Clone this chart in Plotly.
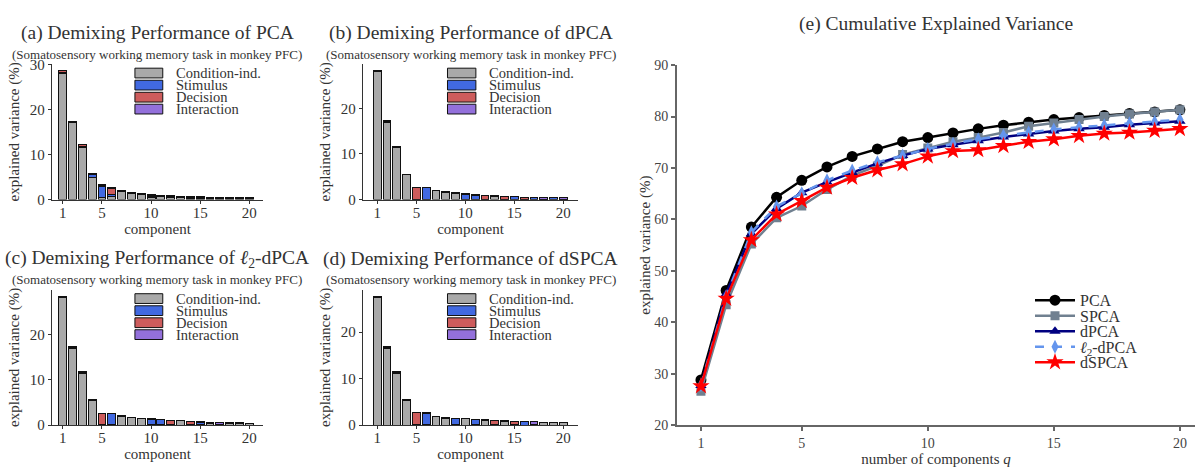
import plotly.graph_objects as go

W, H = 1195, 468
FONT = "Liberation Serif"
TXT = "#333333"

components = list(range(1, 21))
categories = ["Condition-ind.", "Stimulus", "Decision", "Interaction"]
cat_colors = ["#a9a9a9", "#4169e1", "#cd5c5c", "#9370db"]

# ---- per-component explained variance (%), stacked by marginalization ----
pca_cond = [28.1, 17.1, 11.6, 5.0, 0.57, 0.6, 1.7, 1.3, 1.1, 0.5, 0.7, 0.4, 0.4, 0.35, 0.3, 0.3, 0.25, 0.25, 0.25, 0.2]
pca_stim = [0.15, 0.1, 0.2, 0.6, 2.3, 0.45, 0.1, 0.1, 0.1, 0.15, 0.1, 0.3, 0.25, 0.2, 0.2, 0.15, 0.15, 0.15, 0.1, 0.1]
pca_dec = [0.35, 0.15, 0.4, 0.15, 0.35, 1.35, 0.15, 0.1, 0.1, 0.3, 0.1, 0.1, 0.1, 0.1, 0.05, 0.05, 0.05, 0.05, 0.05, 0.1]
pca_int = [0.15, 0.1, 0.15, 0.15, 0.2, 0.3, 0.1, 0.07, 0.1, 0.1, 0.05, 0.05, 0.05, 0.05, 0.05, 0.05, 0.05, 0.05, 0.1, 0.05]

dpca_cond = [28.0, 16.95, 11.5, 5.4, 0.05, 0.05, 1.95, 1.62, 1.42, 0.05, 0.05, 0.05, 0.78, 0.05, 0.04, 0.04, 0.04, 0.04, 0.04, 0.04]
dpca_stim = [0.1, 0.1, 0.1, 0.04, 0.05, 2.5, 0.04, 0.03, 0.03, 1.17, 0.96, 0.05, 0.03, 0.05, 0.55, 0.04, 0.48, 0.04, 0.35, 0.04]
dpca_dec = [0.1, 0.1, 0.08, 0.03, 2.45, 0.03, 0.03, 0.03, 0.03, 0.03, 0.03, 0.88, 0.02, 0.65, 0.02, 0.45, 0.02, 0.03, 0.02, 0.03]
dpca_int = [0.1, 0.1, 0.07, 0.03, 0.05, 0.02, 0.03, 0.02, 0.02, 0.02, 0.02, 0.02, 0.02, 0.03, 0.02, 0.03, 0.02, 0.38, 0.02, 0.31]

l2_cond = [28.15, 16.95, 11.5, 5.5, 0.05, 0.05, 1.95, 1.62, 1.48, 0.04, 0.04, 0.04, 0.92, 0.04, 0.04, 0.47, 0.04, 0.47, 0.41, 0.35]
l2_stim = [0.1, 0.1, 0.1, 0.04, 0.05, 2.55, 0.04, 0.03, 0.03, 1.3, 1.17, 0.04, 0.03, 0.04, 0.61, 0.03, 0.04, 0.03, 0.03, 0.03]
l2_dec = [0.1, 0.1, 0.08, 0.03, 2.53, 0.04, 0.03, 0.02, 0.02, 0.03, 0.03, 0.95, 0.02, 0.74, 0.03, 0.03, 0.03, 0.03, 0.02, 0.02]
l2_int = [0.1, 0.1, 0.07, 0.03, 0.05, 0.04, 0.02, 0.02, 0.02, 0.03, 0.03, 0.03, 0.02, 0.03, 0.02, 0.03, 0.45, 0.03, 0.03, 0.02]

dspca_cond = [27.4, 16.5, 11.2, 5.35, 0.05, 0.05, 1.84, 1.52, 0.04, 1.44, 0.04, 1.1, 0.03, 0.84, 0.03, 0.03, 0.03, 0.49, 0.49, 0.49]
dspca_stim = [0.1, 0.1, 0.1, 0.04, 0.04, 2.52, 0.03, 0.03, 1.43, 0.03, 1.09, 0.03, 0.03, 0.02, 0.03, 0.69, 0.03, 0.02, 0.02, 0.02]
dspca_dec = [0.1, 0.1, 0.08, 0.03, 2.55, 0.03, 0.03, 0.02, 0.03, 0.03, 0.02, 0.02, 0.89, 0.02, 0.75, 0.02, 0.02, 0.02, 0.02, 0.02]
dspca_int = [0.1, 0.1, 0.07, 0.03, 0.05, 0.02, 0.03, 0.02, 0.02, 0.02, 0.02, 0.02, 0.02, 0.02, 0.02, 0.02, 0.68, 0.02, 0.02, 0.02]

# ---- cumulative explained variance (%) ----
q_values = list(range(1, 21))
cum_pca = [28.8, 46.2, 58.5, 64.3, 67.6, 70.2, 72.25, 73.7, 75.1, 75.9, 76.8, 77.6, 78.3, 78.9, 79.4, 79.8, 80.2, 80.6, 80.9, 81.3]
cum_spca = [26.6, 43.4, 55.2, 60.3, 62.6, 65.8, 68.5, 70.4, 72.6, 73.9, 75.1, 75.9, 76.9, 78.1, 78.75, 79.4, 80.0, 80.5, 80.9, 81.3]
cum_dpca = [27.7, 45.5, 57.2, 62.1, 65.2, 67.25, 69.1, 70.9, 72.4, 73.7, 74.5, 75.3, 76.0, 76.6, 77.2, 77.6, 77.9, 78.4, 78.75, 79.1]
cum_l2dpca = [27.8, 45.0, 57.5, 62.5, 65.1, 67.6, 69.5, 71.1, 72.4, 73.7, 74.7, 75.6, 76.3, 76.9, 77.5, 77.9, 78.3, 78.7, 79.0, 79.4]
cum_dspca = [27.6, 44.6, 56.0, 61.0, 63.6, 66.2, 68.1, 69.6, 70.75, 72.25, 73.3, 73.5, 74.3, 75.1, 75.6, 76.25, 76.7, 76.9, 77.25, 77.6]

fig = go.Figure()

def px_x(a, b):
    return [a / W, b / W]

def px_y(top, bottom):
    return [1 - bottom / H, 1 - top / H]

panels = [
    dict(sfx="", title="(a) Demixing Performance of PCA",
         data=[pca_cond, pca_stim, pca_dec, pca_int],
         xd=px_x(52, 263), yd=px_y(59, 199), xr=[-0.09, 21.4], yr=[0, 30.1], yt=[0, 10, 20, 30]),
    dict(sfx="2", title="(b) Demixing Performance of dPCA",
         data=[dpca_cond, dpca_stim, dpca_dec, dpca_int],
         xd=px_x(363, 578), yd=px_y(59, 199), xr=[-0.45, 21.5], yr=[0, 29.7], yt=[0, 10, 20]),
    dict(sfx="3", title="(c) Demixing Performance of <i>ℓ</i><sub>2</sub>-dPCA",
         data=[l2_cond, l2_stim, l2_dec, l2_int],
         xd=px_x(52, 263), yd=px_y(292, 432), xr=[-0.09, 21.4], yr=[0, 29.9], yt=[0, 10, 20]),
    dict(sfx="4", title="(d) Demixing Performance of dSPCA",
         data=[dspca_cond, dspca_stim, dspca_dec, dspca_int],
         xd=px_x(363, 578), yd=px_y(292, 432), xr=[-0.45, 21.5], yr=[0, 29.1], yt=[0, 10, 20]),
]

layout_axes = {}
annotations = []
shapes = []

for p in panels:
    s = p["sfx"]
    xa = "x" + s
    ya = "y" + s
    for vals, cname, col in zip(p["data"], categories, cat_colors):
        fig.add_trace(go.Bar(
            x=components, y=vals, name=cname, xaxis=xa, yaxis=ya,
            marker=dict(color=col, line=dict(color="#111111", width=1)),
            showlegend=False, hoverinfo="skip"))
    axis_common = dict(showgrid=False, zeroline=False, showline=True, linecolor="#333333", linewidth=1.3,
                       ticks="outside", ticklen=3, tickwidth=1.2, tickcolor="#333333",
                       tickfont=dict(family=FONT, size=15, color=TXT))
    layout_axes["xaxis" + s] = dict(axis_common, domain=p["xd"], range=p["xr"], anchor=ya,
                                    tickvals=[1, 5, 10, 15, 20], ticklabelstandoff=-4,
                                    title=dict(text="component", font=dict(family=FONT, size=15, color=TXT), standoff=0))
    layout_axes["yaxis" + s] = dict(axis_common, domain=p["yd"], range=p["yr"], anchor=xa,
                                    tickvals=p["yt"],
                                    title=dict(text="explained variance (%)", font=dict(family=FONT, size=15, color=TXT), standoff=6))
    xdom, ydom = p["xd"], p["yd"]
    xc = (xdom[0] + xdom[1]) / 2
    annotations.append(dict(text=p["title"], xref="paper", yref="paper", x=xc, y=ydom[1] + 32 / H,
                            xanchor="center", yanchor="middle", showarrow=False,
                            font=dict(family=FONT, size=19.5, color=TXT)))
    annotations.append(dict(text="(Somatosensory working memory task in monkey PFC)", xref="paper", yref="paper",
                            x=xc, y=ydom[1] + 10 / H, xanchor="center", yanchor="middle", showarrow=False,
                            font=dict(family=FONT, size=13, color=TXT)))
    # per-panel legend
    rows = [0.934, 0.845, 0.756, 0.668]
    for cname, col, yc in zip(categories, cat_colors, rows):
        shapes.append(dict(type="rect", xref=xa + " domain", yref=ya + " domain",
                           x0=0.393, x1=0.525, y0=yc - 0.036, y1=yc + 0.036,
                           fillcolor=col, line=dict(color="#111111", width=1)))
        annotations.append(dict(text=cname, xref=xa + " domain", yref=ya + " domain", x=0.577, y=yc,
                                xanchor="left", yanchor="middle", showarrow=False,
                                font=dict(family=FONT, size=14.5, color=TXT)))

# ---- panel (e) ----
series = [
    ("PCA", cum_pca, "black", "circle", 11, "solid"),
    ("SPCA", cum_spca, "slategray", "square", 9, "solid"),
    ("dPCA", cum_dpca, "navy", "triangle-up", 10, "solid"),
    ("<i>ℓ</i><sub>2</sub>-dPCA", cum_l2dpca, "cornflowerblue", "diamond-tall", 10, "dash"),
    ("dSPCA", cum_dspca, "red", "star", 13, "solid"),
]
legend_rows = [303, 319, 335, 351, 367]
legend_layout = {}
for i, ((name, vals, col, sym, msize, dash), yrow) in enumerate(zip(series, legend_rows)):
    lname = "legend" if i == 0 else "legend%d" % (i + 1)
    fig.add_trace(go.Scatter(
        x=q_values, y=vals, name=name, xaxis="x5", yaxis="y5", mode="lines+markers",
        line=dict(color=col, width=2.5, dash=dash),
        marker=dict(symbol=sym, size=msize, color=col, line=dict(width=0)),
        showlegend=True, legend=lname, hoverinfo="skip"))
    legend_layout[lname] = dict(x=1030 / W, y=1 - yrow / H, xanchor="left", yanchor="middle",
                                bgcolor="rgba(0,0,0,0)", font=dict(family=FONT, size=16, color=TXT),
                                itemwidth=40, borderwidth=0)

e_axis = dict(showgrid=False, zeroline=False, showline=True, linecolor="#666666", linewidth=2,
              ticks="outside", ticklen=4, tickwidth=1.5, tickcolor="#666666",
              tickfont=dict(family=FONT, size=14, color="#444444"))
layout_axes["xaxis5"] = dict(e_axis, domain=px_x(677, 1195), range=[0.05, 20.6], anchor="y5",
                             tickvals=[1, 5, 10, 15, 20],
                             title=dict(text="number of components <i>q</i>", font=dict(family=FONT, size=15, color=TXT), standoff=4))
layout_axes["yaxis5"] = dict(e_axis, domain=px_y(60, 432), range=[20, 90], anchor="x5",
                             tickvals=[20, 30, 40, 50, 60, 70, 80, 90],
                             title=dict(text="explained variance (%)", font=dict(family=FONT, size=15, color=TXT), standoff=0))
annotations.append(dict(text="(e) Cumulative Explained Variance", xref="paper", yref="paper",
                        x=(677 + 1195) / 2 / W, y=1 - 18 / H, xanchor="center", yanchor="middle",
                        showarrow=False, font=dict(family=FONT, size=19.5, color=TXT)))

fig.update_layout(
    width=W, height=H, margin=dict(l=0, r=0, t=0, b=0),
    paper_bgcolor="white", plot_bgcolor="white",
    barmode="stack", bargap=0.2,
    font=dict(family=FONT, color=TXT),
    annotations=annotations, shapes=shapes,
    **legend_layout,
    **layout_axes,
)

fig.write_html("out.html")
